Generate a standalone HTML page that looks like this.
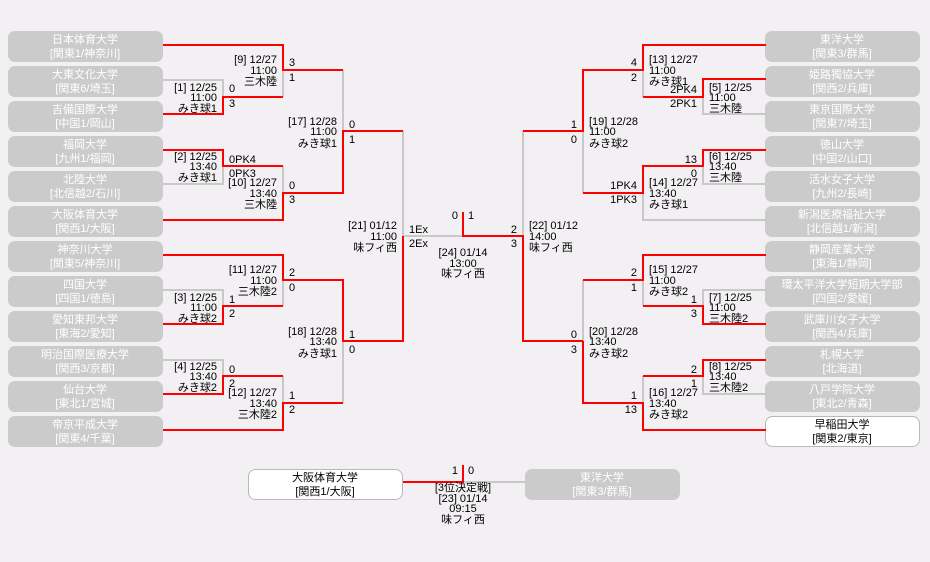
<!DOCTYPE html>
<html><head><meta charset="utf-8"><style>
html,body{margin:0;padding:0;background:#f2f0f2;}
svg{display:block;}
text{font-family:"Liberation Sans","Noto Sans CJK JP",sans-serif;font-size:11px;fill:#000;}
.bx{fill:#cbcbcb;}
.bw{fill:#fff;stroke:#b8b8b8;stroke-width:1;}
.tw{fill:#fff;}
.tb{fill:#000;}
.R{stroke:#f00;stroke-width:2;fill:none;}
.G{stroke:#c8c8c8;stroke-width:2;fill:none;}
</style></head><body>
<svg width="930" height="562" viewBox="0 0 930 562" xmlns="http://www.w3.org/2000/svg">
<g>
<rect class="bx" x="8" y="31" width="155" height="31" rx="7"/>
<rect class="bx" x="8" y="66" width="155" height="31" rx="7"/>
<rect class="bx" x="8" y="101" width="155" height="31" rx="7"/>
<rect class="bx" x="8" y="136" width="155" height="31" rx="7"/>
<rect class="bx" x="8" y="171" width="155" height="31" rx="7"/>
<rect class="bx" x="8" y="206" width="155" height="31" rx="7"/>
<rect class="bx" x="8" y="241" width="155" height="31" rx="7"/>
<rect class="bx" x="8" y="276" width="155" height="31" rx="7"/>
<rect class="bx" x="8" y="311" width="155" height="31" rx="7"/>
<rect class="bx" x="8" y="346" width="155" height="31" rx="7"/>
<rect class="bx" x="8" y="381" width="155" height="31" rx="7"/>
<rect class="bx" x="8" y="416" width="155" height="31" rx="7"/>
<rect class="bx" x="765" y="31" width="155" height="31" rx="7"/>
<rect class="bx" x="765" y="66" width="155" height="31" rx="7"/>
<rect class="bx" x="765" y="101" width="155" height="31" rx="7"/>
<rect class="bx" x="765" y="136" width="155" height="31" rx="7"/>
<rect class="bx" x="765" y="171" width="155" height="31" rx="7"/>
<rect class="bx" x="765" y="206" width="155" height="31" rx="7"/>
<rect class="bx" x="765" y="241" width="155" height="31" rx="7"/>
<rect class="bx" x="765" y="276" width="155" height="31" rx="7"/>
<rect class="bx" x="765" y="311" width="155" height="31" rx="7"/>
<rect class="bx" x="765" y="346" width="155" height="31" rx="7"/>
<rect class="bx" x="765" y="381" width="155" height="31" rx="7"/>
<rect class="bw" x="765.5" y="416.5" width="154" height="30" rx="7"/>
<rect class="bw" x="248.5" y="469.5" width="154" height="30" rx="7"/>
<rect class="bx" x="525" y="469" width="155" height="31" rx="7"/>
</g>
<g text-anchor="middle">
<text class="tw" x="85" y="43">日本体育大学</text><text class="tw" x="85" y="57">[関東1/神奈川]</text>
<text class="tw" x="85" y="78">大東文化大学</text><text class="tw" x="85" y="92">[関東6/埼玉]</text>
<text class="tw" x="85" y="113">吉備国際大学</text><text class="tw" x="85" y="127">[中国1/岡山]</text>
<text class="tw" x="85" y="148">福岡大学</text><text class="tw" x="85" y="162">[九州1/福岡]</text>
<text class="tw" x="85" y="183">北陸大学</text><text class="tw" x="85" y="197">[北信越2/石川]</text>
<text class="tw" x="85" y="218">大阪体育大学</text><text class="tw" x="85" y="232">[関西1/大阪]</text>
<text class="tw" x="85" y="253">神奈川大学</text><text class="tw" x="85" y="267">[関東5/神奈川]</text>
<text class="tw" x="85" y="288">四国大学</text><text class="tw" x="85" y="302">[四国1/徳島]</text>
<text class="tw" x="85" y="323">愛知東邦大学</text><text class="tw" x="85" y="337">[東海2/愛知]</text>
<text class="tw" x="85" y="358">明治国際医療大学</text><text class="tw" x="85" y="372">[関西3/京都]</text>
<text class="tw" x="85" y="393">仙台大学</text><text class="tw" x="85" y="407">[東北1/宮城]</text>
<text class="tw" x="85" y="428">帝京平成大学</text><text class="tw" x="85" y="442">[関東4/千葉]</text>
<text class="tw" x="842" y="43">東洋大学</text><text class="tw" x="842" y="57">[関東3/群馬]</text>
<text class="tw" x="842" y="78">姫路獨協大学</text><text class="tw" x="842" y="92">[関西2/兵庫]</text>
<text class="tw" x="842" y="113">東京国際大学</text><text class="tw" x="842" y="127">[関東7/埼玉]</text>
<text class="tw" x="842" y="148">徳山大学</text><text class="tw" x="842" y="162">[中国2/山口]</text>
<text class="tw" x="842" y="183">活水女子大学</text><text class="tw" x="842" y="197">[九州2/長崎]</text>
<text class="tw" x="842" y="218">新潟医療福祉大学</text><text class="tw" x="842" y="232">[北信越1/新潟]</text>
<text class="tw" x="842" y="253">静岡産業大学</text><text class="tw" x="842" y="267">[東海1/静岡]</text>
<text class="tw" x="842" y="288">環太平洋大学短期大学部</text><text class="tw" x="842" y="302">[四国2/愛媛]</text>
<text class="tw" x="842" y="323">武庫川女子大学</text><text class="tw" x="842" y="337">[関西4/兵庫]</text>
<text class="tw" x="842" y="358">札幌大学</text><text class="tw" x="842" y="372">[北海道]</text>
<text class="tw" x="842" y="393">八戸学院大学</text><text class="tw" x="842" y="407">[東北2/青森]</text>
<text class="tb" x="842" y="428">早稲田大学</text><text class="tb" x="842" y="442">[関東2/東京]</text>
<text class="tb" x="325" y="481">大阪体育大学</text><text class="tb" x="325" y="495">[関西1/大阪]</text>
<text class="tw" x="602" y="481">東洋大学</text><text class="tw" x="602" y="495">[関東3/群馬]</text>
</g>
<g>
<path class="G" d="M163,80 H223 V97"/><path class="G" d="M283,70 V97"/>
<path class="G" d="M223,166 V184 H163"/><path class="G" d="M283,166 V193"/>
<path class="G" d="M343,70 V131"/><path class="G" d="M403,131 V236 H463"/>
<path class="G" d="M283,280 V306"/><path class="G" d="M163,290 H223 V306"/>
<path class="G" d="M163,360 H223 V376"/><path class="G" d="M283,376 V403"/><path class="G" d="M343,341 V403"/>
<path class="G" d="M523,131 V236"/>
<path class="G" d="M643,70 V97"/><path class="G" d="M703,97 V114 H766"/>
<path class="G" d="M703,166 V184 H766"/><path class="G" d="M643,193 V220 H766"/><path class="G" d="M583,131 V193"/>
<path class="G" d="M643,280 V306"/><path class="G" d="M766,290 H703 V306"/><path class="G" d="M583,280 V341"/>
<path class="G" d="M643,376 V403"/><path class="G" d="M703,376 V394 H766"/>
<path class="G" d="M463,482 H525"/>

<path class="R" d="M163,45 H283 V70 H343"/>
<path class="R" d="M163,114 H223 V97 H283"/>
<path class="R" d="M163,150 H223 V166 H283"/>
<path class="R" d="M163,220 H283 V193 H343 V131 H403"/>
<path class="R" d="M163,255 H283 V280 H343 V341 H403 V236"/>
<path class="R" d="M163,324 H223 V306 H283"/>
<path class="R" d="M163,394 H223 V376 H283"/>
<path class="R" d="M163,430 H283 V403 H343"/>
<path class="R" d="M463,212 V236 H523 V341 H583"/>
<path class="R" d="M766,45 H643 V70 H583 V131 H523"/>
<path class="R" d="M766,79 H703 V97 H643"/>
<path class="R" d="M766,150 H703 V166 H643 V193 H583"/>
<path class="R" d="M766,255 H643 V280 H583"/>
<path class="R" d="M766,324 H703 V306 H643"/>
<path class="R" d="M583,341 V403 H643 V430 H766"/>
<path class="R" d="M766,360 H703 V376 H643"/>
<path class="R" d="M403,482 H463 V465"/>
</g>
<g text-anchor="end">
<text x="277" y="63">[9] 12/27</text><text x="277" y="74">11:00</text><text x="277" y="85">三木陸</text>
<text x="217" y="91">[1] 12/25</text><text x="217" y="101">11:00</text><text x="217" y="112">みき球1</text>
<text x="337" y="125">[17] 12/28</text><text x="337" y="135">11:00</text><text x="337" y="147">みき球1</text>
<text x="217" y="160">[2] 12/25</text><text x="217" y="170">13:40</text><text x="217" y="181">みき球1</text>
<text x="277" y="186">[10] 12/27</text><text x="277" y="197">13:40</text><text x="277" y="208">三木陸</text>
<text x="397" y="229">[21] 01/12</text><text x="397" y="240">11:00</text><text x="397" y="251">味フィ西</text>
<text x="277" y="273">[11] 12/27</text><text x="277" y="284">11:00</text><text x="277" y="295">三木陸2</text>
<text x="217" y="301">[3] 12/25</text><text x="217" y="311">11:00</text><text x="217" y="322">みき球2</text>
<text x="337" y="335">[18] 12/28</text><text x="337" y="345">13:40</text><text x="337" y="357">みき球1</text>
<text x="217" y="370">[4] 12/25</text><text x="217" y="380">13:40</text><text x="217" y="391">みき球2</text>
<text x="277" y="396">[12] 12/27</text><text x="277" y="407">13:40</text><text x="277" y="418">三木陸2</text>
<text x="637" y="66">4</text><text x="637" y="81">2</text>
<text x="697" y="93">2PK4</text><text x="697" y="107">2PK1</text>
<text x="577" y="128">1</text><text x="577" y="143">0</text>
<text x="697" y="163">13</text><text x="697" y="177">0</text>
<text x="637" y="189">1PK4</text><text x="637" y="203">1PK3</text>
<text x="517" y="233">2</text><text x="517" y="247">3</text>
<text x="637" y="276">2</text><text x="637" y="291">1</text>
<text x="697" y="303">1</text><text x="697" y="317">3</text>
<text x="577" y="338">0</text><text x="577" y="353">3</text>
<text x="697" y="373">2</text><text x="697" y="387">1</text>
<text x="637" y="399">1</text><text x="637" y="413">13</text>
<text x="458" y="219">0</text><text x="458" y="474">1</text>
</g>
<g text-anchor="start">
<text x="289" y="66">3</text><text x="289" y="81">1</text>
<text x="229" y="92">0</text><text x="229" y="107">3</text>
<text x="349" y="128">0</text><text x="349" y="143">1</text>
<text x="229" y="163">0PK4</text><text x="229" y="177">0PK3</text>
<text x="289" y="189">0</text><text x="289" y="203">3</text>
<text x="409" y="233">1Ex</text><text x="409" y="247">2Ex</text>
<text x="289" y="276">2</text><text x="289" y="291">0</text>
<text x="229" y="303">1</text><text x="229" y="317">2</text>
<text x="349" y="338">1</text><text x="349" y="353">0</text>
<text x="229" y="373">0</text><text x="229" y="387">2</text>
<text x="289" y="399">1</text><text x="289" y="413">2</text>
<text x="468" y="219">1</text><text x="468" y="474">0</text>
<text x="649" y="63">[13] 12/27</text><text x="649" y="74">11:00</text><text x="649" y="85">みき球1</text>
<text x="709" y="91">[5] 12/25</text><text x="709" y="101">11:00</text><text x="709" y="112">三木陸</text>
<text x="589" y="125">[19] 12/28</text><text x="589" y="135">11:00</text><text x="589" y="147">みき球2</text>
<text x="709" y="160">[6] 12/25</text><text x="709" y="170">13:40</text><text x="709" y="181">三木陸</text>
<text x="649" y="186">[14] 12/27</text><text x="649" y="197">13:40</text><text x="649" y="208">みき球1</text>
<text x="529" y="229">[22] 01/12</text><text x="529" y="240">14:00</text><text x="529" y="251">味フィ西</text>
<text x="649" y="273">[15] 12/27</text><text x="649" y="284">11:00</text><text x="649" y="295">みき球2</text>
<text x="709" y="301">[7] 12/25</text><text x="709" y="311">11:00</text><text x="709" y="322">三木陸2</text>
<text x="589" y="335">[20] 12/28</text><text x="589" y="345">13:40</text><text x="589" y="357">みき球2</text>
<text x="709" y="370">[8] 12/25</text><text x="709" y="380">13:40</text><text x="709" y="391">三木陸2</text>
<text x="649" y="396">[16] 12/27</text><text x="649" y="407">13:40</text><text x="649" y="418">みき球2</text>
</g>
<g text-anchor="middle">
<text x="463" y="256">[24] 01/14</text><text x="463" y="267">13:00</text><text x="463" y="277">味フィ西</text>
<text x="463" y="491">[3位決定戦]</text><text x="463" y="502">[23] 01/14</text><text x="463" y="512">09:15</text><text x="463" y="523">味フィ西</text>
</g>
</svg>
</body></html>
